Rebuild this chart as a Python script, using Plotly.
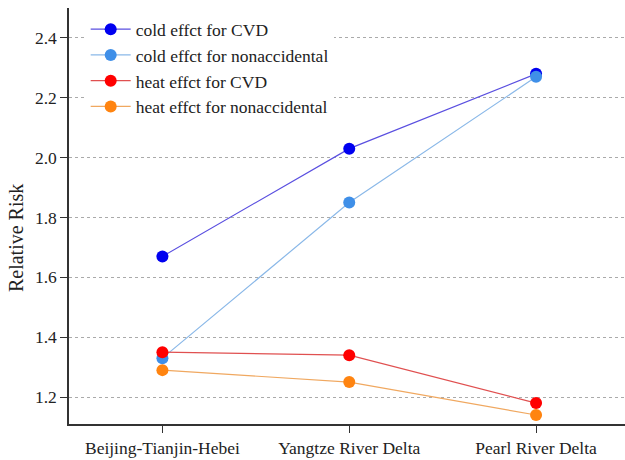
import plotly.graph_objects as go

regions = ["Beijing-Tianjin-Hebei", "Yangtze River Delta", "Pearl River Delta"]
cold_cvd = [1.67, 2.03, 2.28]
cold_non = [1.33, 1.85, 2.27]
heat_cvd = [1.35, 1.34, 1.18]
heat_non = [1.29, 1.25, 1.14]

series = [
    ("cold effct for CVD", cold_cvd, "#0000f0", "#5a4fe0"),
    ("cold effct for nonaccidental", cold_non, "#3f8fe8", "#8ab8e8"),
    ("heat effct for CVD", heat_cvd, "#ff0000", "#e05050"),
    ("heat effct for nonaccidental", heat_non, "#ff8410", "#f0a860"),
]

FONT = "Liberation Serif"

fig = go.Figure()
for name, vals, mc, lc in series:
    fig.add_trace(go.Scatter(
        x=[0, 1, 2], y=vals, name=name, mode="lines+markers",
        line=dict(color=lc, width=1.2),
        marker=dict(color=mc, size=12),
    ))

fig.add_annotation(
    text="Relative Risk", xref="paper", yref="paper",
    x=-0.0953, y=0.447, textangle=-90, showarrow=False,
    xanchor="center", yanchor="middle",
    font=dict(size=20, family=FONT, color="#222"),
)

fig.update_layout(
    width=625, height=460,
    margin=dict(l=69, r=0, t=8, b=36),
    paper_bgcolor="white", plot_bgcolor="white",
    font=dict(family=FONT, color="#222", size=17.5),
    showlegend=True,
    legend=dict(x=0.03, y=0.992, xanchor="left", yanchor="top",
                bgcolor="white", borderwidth=0,
                font=dict(size=17.5, family=FONT, color="#222"),
                tracegroupgap=0, itemwidth=40),
    xaxis=dict(range=[-0.5, 2.476], tickvals=[0, 1, 2], ticktext=regions,
               showgrid=False, showline=True, linecolor="#333", linewidth=1.5,
               ticks="outside", ticklen=7, tickcolor="#333", zeroline=False,
               tickfont=dict(size=17.5, family=FONT)),
    yaxis=dict(range=[1.11, 2.5], tickvals=[1.2, 1.4, 1.6, 1.8, 2.0, 2.2, 2.4],
               ticktext=["1.2", "1.4", "1.6", "1.8", "2.0", "2.2", "2.4"],
               showgrid=True, gridcolor="#aaaaaa", griddash="dot", gridwidth=1,
               showline=True, linecolor="#333", linewidth=1.5,
               ticks="outside", ticklen=7, tickcolor="#333", zeroline=False,
               tickfont=dict(size=17.5, family=FONT)),
)

fig.write_html("out.html")
